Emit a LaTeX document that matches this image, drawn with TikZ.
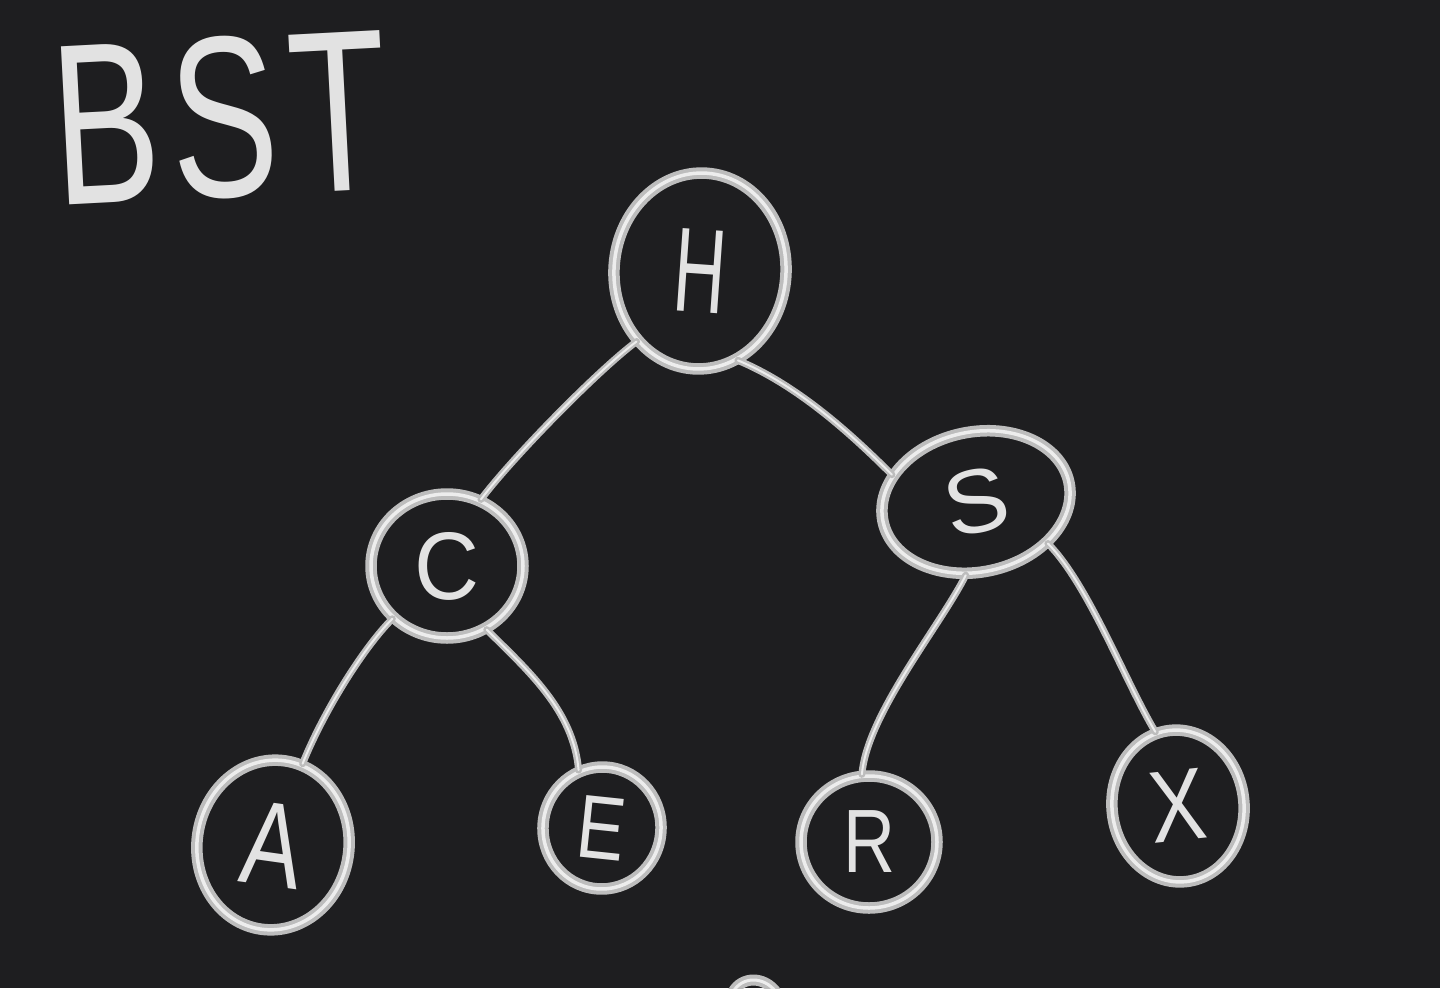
\documentclass[tikz,border=0pt]{standalone}
\usepackage{fontspec}
\setmainfont{Liberation Sans}
\usetikzlibrary{shapes.geometric}
\definecolor{board}{HTML}{1E1E20}
\definecolor{chalk}{HTML}{BDBDBD}
\definecolor{chalkhi}{HTML}{EDEDED}
\begin{document}
\begin{tikzpicture}[x=1pt,y=-1pt,
  ring/.style={ellipse, draw=chalk, line width=4pt, double=chalkhi, double distance=3.5pt,
    inner sep=0pt, text=chalkhi!90!gray,
    font=\fontsize{120}{120}\selectfont},
  link/.style={draw=chalk, line width=2.5pt, double=chalkhi, double distance=2pt, line cap=round},
  title/.style={text=chalkhi!90!gray, font=\fontsize{230}{230}\selectfont, inner sep=0pt}]
  \useasboundingbox (0,0) rectangle (1440,988);
  \fill[board] (0,0) rectangle (1440,988);

  % heading
  \node[title, rotate=3] (title) at (220,118) {\scalebox{0.7}[1]{B\kern16pt S\kern16pt T}};

  % tree nodes
  \node[ring, minimum width=172, minimum height=196, rotate=-4] (H) at (700,271) {\scalebox{0.6}[1]{H}};
  \node[ring, minimum width=152, minimum height=144] (C) at (447,566) {\scalebox{0.75}[0.8]{C}};
  \node[ring, minimum width=190, minimum height=140, rotate=12] (S) at (976,502) {\scalebox{0.8}[0.75]{S}};
  \node[ring, minimum width=152, minimum height=170, rotate=-8] (A) at (273,845) {\scalebox{0.75}[1]{A}};
  \node[ring, minimum width=118, minimum height=122, rotate=-6] (E) at (602,828) {\scalebox{0.6}[0.75]{E}};
  \node[ring, minimum width=136, minimum height=132] (R) at (869,842) {\scalebox{0.6}[0.75]{R}};
  \node[ring, minimum width=132, minimum height=152, rotate=6] (X) at (1178,806) {\scalebox{0.7}[0.85]{X}};

  % edges
  \draw[link] (H.232) .. controls +(-40,30) and +(30,-40) .. (C.63);
  \draw[link] (H.297) .. controls +(60,25) and +(-40,-40) .. (S.150);
  \draw[link] (C.224) .. controls +(-30,30) and +(20,-50) .. (A.78);
  \draw[link] (C.302) .. controls +(40,40) and +(-5,-60) .. (E.118);
  \draw[link] (S.250) .. controls +(-25,50) and +(5,-60) .. (R.96);
  \draw[link] (S.318) .. controls +(40,40) and +(-30,-50) .. (X.101);

  % stroke entering from below the frame
  \draw[draw=chalk, line width=4pt, double=chalkhi, double distance=3pt]
    (733,992) .. controls (742,976) and (764,976) .. (776,992);
\end{tikzpicture}
\end{document}
